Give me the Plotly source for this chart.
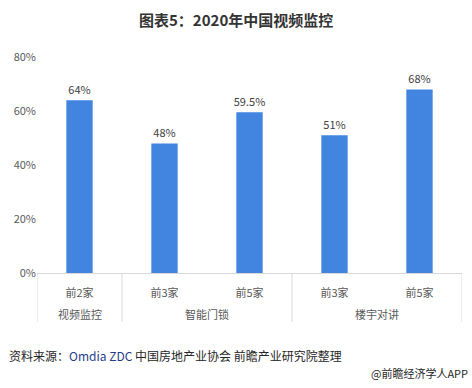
import plotly.graph_objects as go

groups = ["视频监控", "智能门锁", "楼宇对讲"]
group_sizes = [1, 2, 2]
subs = ["前2家", "前3家", "前5家", "前3家", "前5家"]
values = [64, 48, 59.5, 51, 68]
labels = ["64%", "48%", "59.5%", "51%", "68%"]
yticks = [0, 20, 40, 60, 80]
yticklabels = ["0%", "20%", "40%", "60%", "80%"]

FONT = "Microsoft YaHei, Noto Sans CJK SC, sans-serif"
LINE = "#D9D9D9"

xs = list(range(len(subs)))

fig = go.Figure(go.Bar(
    x=xs, y=values, text=labels, textposition="outside", constraintext="none",
    textfont=dict(size=11, color="#404040", family=FONT),
    marker=dict(color="#4185E1", line=dict(width=0)), width=0.31,
    cliponaxis=False,
))

W, H = 472, 388
L, R, T, B = 37, 10, 57, 115
pw = W - L - R
ph = H - T - B
def px(x):
    return (x - L) / pw
def py(y):
    return (H - B - y) / ph

shapes = []
annotations = []
start = 0
bounds = [-0.5]
for g, n in zip(groups, group_sizes):
    center = start + (n - 1) / 2
    annotations.append(dict(text=g, x=center, y=py(314), xref="x", yref="paper",
                            showarrow=False, yanchor="middle",
                            font=dict(size=11, color="#595959", family=FONT)))
    start += n
    bounds.append(start - 0.5)
for b in bounds:
    shapes.append(dict(type="line", x0=b, x1=b, y0=0, y1=py(322), xref="x", yref="paper",
                       line=dict(color=LINE, width=1)))

annotations += [
    dict(text="<b>图表5：2020年中国视频监控</b>", x=px(236), y=py(19), xref="paper", yref="paper",
         showarrow=False, xanchor="center", yanchor="middle",
         font=dict(size=15, color="#333333", family=FONT)),
    dict(text="资料来源：<span style='color:#1F3C88'>Omdia ZDC</span> 中国房地产业协会 前瞻产业研究院整理",
         x=px(7), y=py(355), xref="paper", yref="paper", showarrow=False, xanchor="left",
         yanchor="middle", font=dict(size=12, color="#262626", family=FONT)),
    dict(text="@前瞻经济学人APP", x=px(470), y=py(373), xref="paper", yref="paper",
         showarrow=False, xanchor="right", yanchor="middle",
         font=dict(size=11, color="#262626", family=FONT)),
]

fig.update_layout(
    width=W, height=H, margin=dict(l=L, r=R, t=T, b=B),
    paper_bgcolor="white", plot_bgcolor="white", showlegend=False,
    font=dict(family=FONT, size=11, color="#595959"),
    xaxis=dict(range=[-0.5, len(subs) - 0.5], tickvals=xs, ticktext=subs,
               showline=True, linecolor=LINE, linewidth=1, ticks="", showgrid=False,
               zeroline=False, ticklabelstandoff=10,
               tickfont=dict(size=11, color="#595959")),
    yaxis=dict(range=[0, 80], tickvals=yticks, ticktext=yticklabels, showgrid=False,
               zeroline=False, showline=False, ticks="", tickfont=dict(size=11, color="#595959")),
    shapes=shapes,
    annotations=annotations,
)

fig.write_html("out.html")
